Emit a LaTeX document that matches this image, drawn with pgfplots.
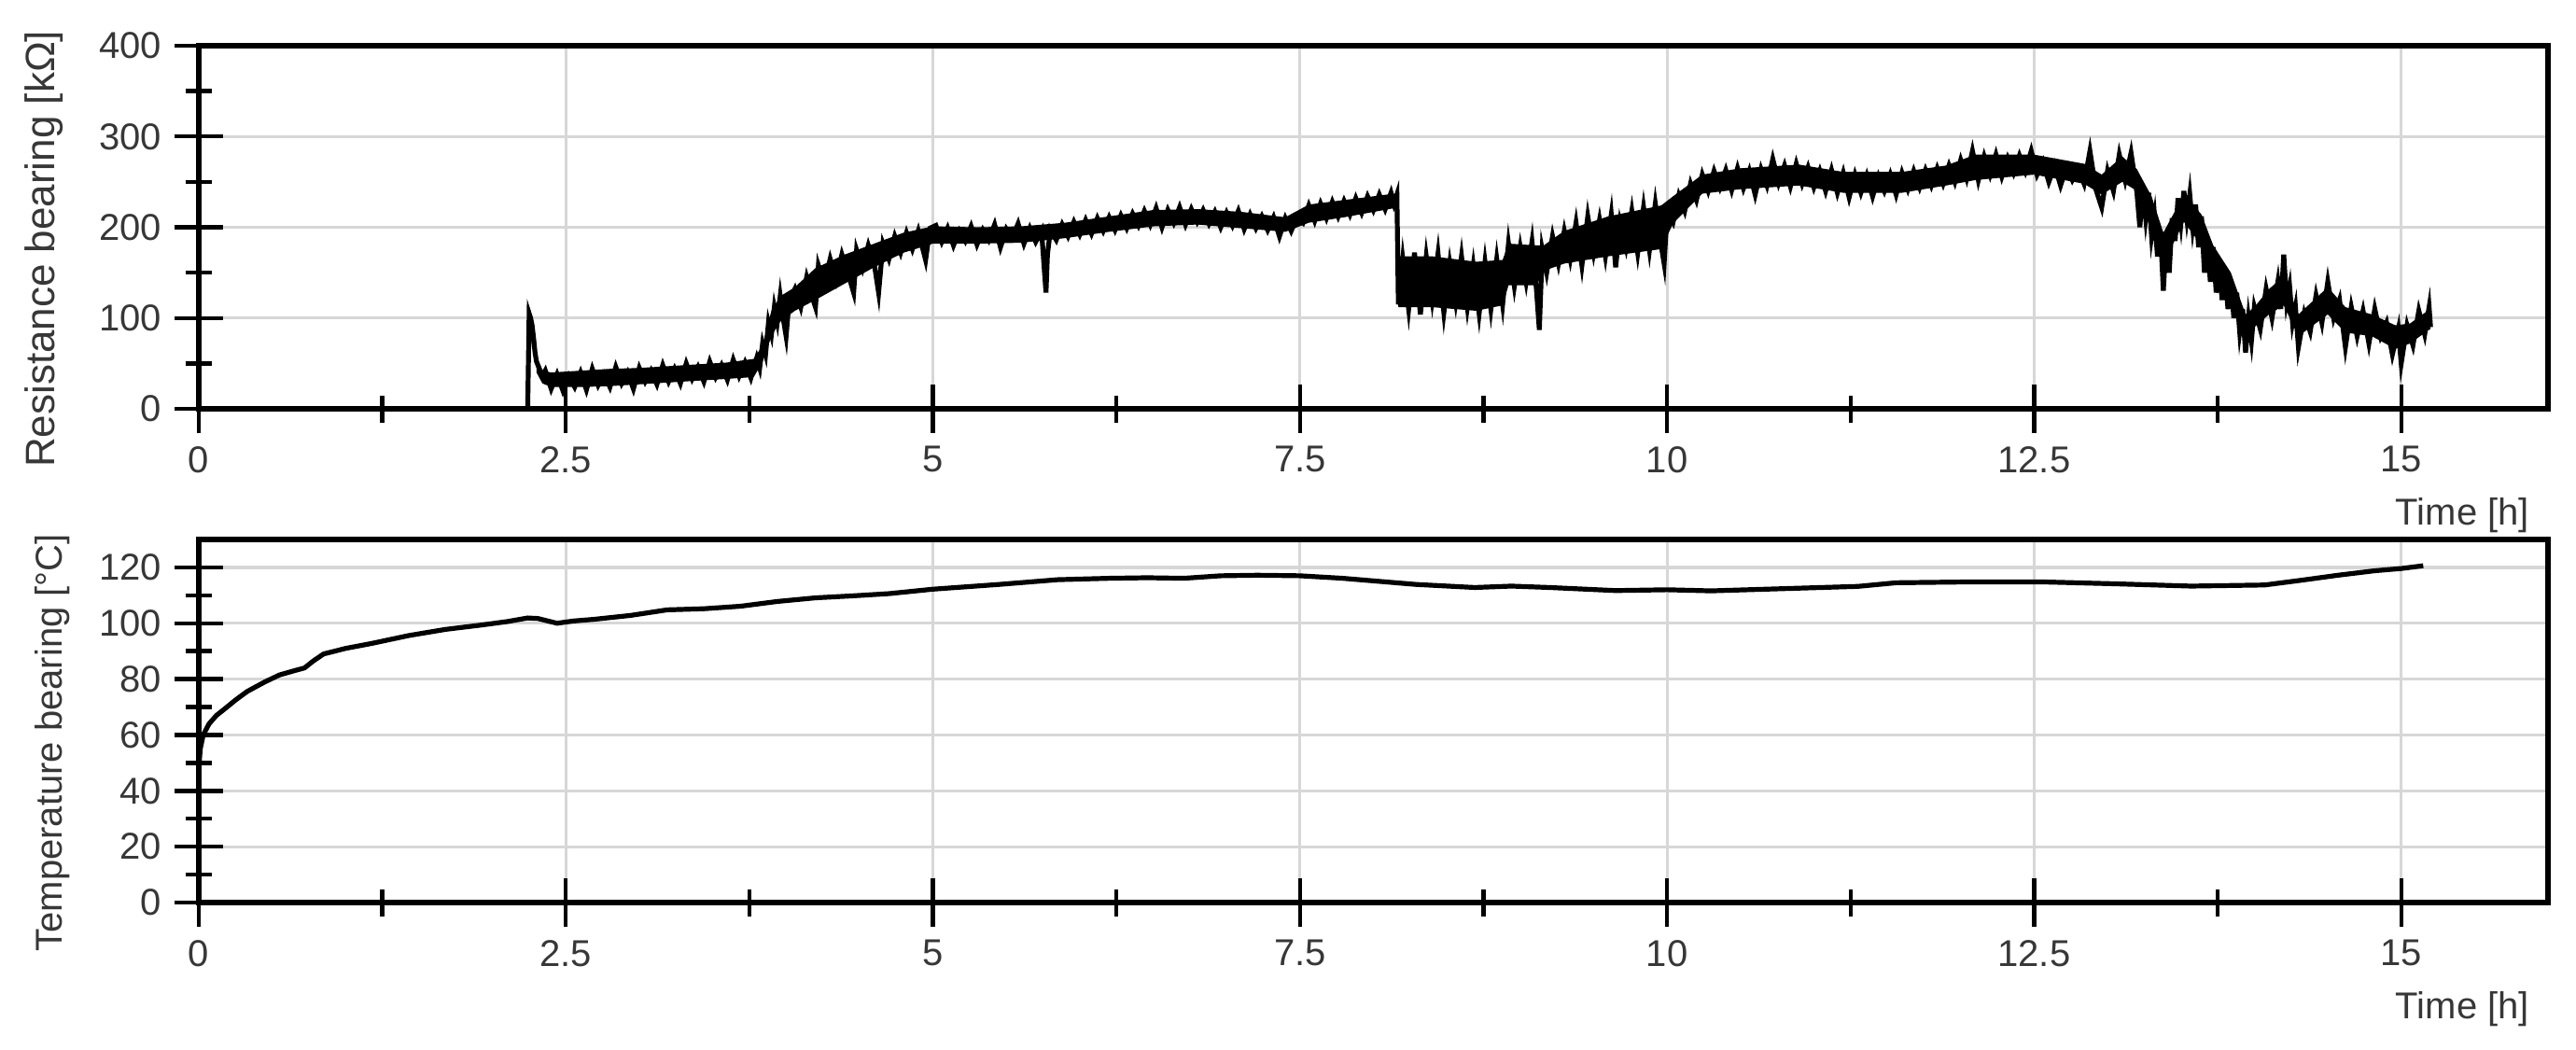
\documentclass[border=0pt]{standalone}
\usepackage{fontspec}
\setmainfont{Liberation Sans}
\usepackage{pgfplots}
\pgfplotsset{compat=1.18}

\definecolor{txt}{RGB}{55,55,55}
\definecolor{gridc}{RGB}{215,215,215}

\pgfplotsset{
  bearing/.style={
    scale only axis,
    width=629.25pt, height=97.25pt,
    xmin=0, xmax=16,
    xtick={0,2.5,5,7.5,10,12.5,15},
    minor x tick num=1,
    minor y tick num=1,
    xtick pos=left, ytick pos=left,
    tick align=center,
    major tick length=13pt,
    minor tick length=7.25pt,
    every tick/.style={black, line width=1.1pt},
    grid=major,
    major grid style={gridc, line width=0.8pt},
    axis line style={black, line width=1.6pt},
    ticklabel style={font=\fontsize{10}{12}\selectfont, text=txt},
    /pgf/number format/assume math mode=true,
    label style={font=\fontsize{10}{12}\selectfont, text=txt},
    xlabel={Time [h]},
    xlabel style={at={(rel axis cs:1,0)}, anchor=east, xshift=-1.5pt, yshift=-28.5pt},
    clip=false,
  }
}

\begin{document}
\begin{tikzpicture}
\useasboundingbox (-53.25pt,-171.5pt) rectangle (636.75pt,109.5pt);

% resistance
\begin{axis}[bearing,
    at={(0pt,0pt)}, anchor=south west,
    ymin=0, ymax=400,
    ytick={0,100,200,300,400},
    ylabel={Resistance bearing [k\symbol{"03A9}]},
    ylabel style={at={(axis description cs:-0.066,0.44)}, anchor=center, rotate=0,
      font=\fontsize{11}{13}\selectfont},
  ]
  % body of the noisy band: upper envelope, then lower envelope backwards
  \addplot[draw=none, fill=black, forget plot] coordinates {
    (2.30,56) (2.34,42) (2.40,40) (2.60,42) (2.80,44) (3.00,45) (3.20,47) (3.40,49) (3.60,51) (3.78,55)
    (3.84,70) (3.90,108) (3.96,124) (4.06,134) (4.20,155) (4.40,170) (4.60,182) (4.80,194) (5.00,201) (5.30,200)
    (5.60,201) (5.90,205) (6.20,212) (6.50,219) (6.80,220) (7.10,217) (7.40,211) (7.56,225) (7.80,230) (8.14,237)
    (8.16,237) (8.17,168) (8.40,168) (8.70,162) (8.88,164) (8.92,182) (9.11,180) (9.16,180) (9.30,196) (9.60,212)
    (9.96,224) (10.04,234) (10.24,258) (10.50,265) (10.90,269) (11.20,261) (11.60,261) (11.90,268) (12.10,280) (12.50,280)
    (12.84,270) (12.96,258) (13.10,278) (13.20,264) (13.30,234) (13.38,194) (13.52,236) (13.64,214) (13.72,180) (13.84,150)
    (13.94,104) (14.00,112) (14.10,132) (14.20,146) (14.30,104) (14.50,134) (14.62,112) (14.80,104) (14.96,92) (15.06,94)
    (15.18,108) (15.20,104)
    (15.20,88) (15.18,86) (15.06,72) (14.96,66) (14.80,80) (14.62,84) (14.50,104) (14.30,80) (14.20,114) (14.10,104)
    (14.00,90) (13.94,80) (13.84,120) (13.72,145) (13.64,180) (13.52,206) (13.38,160) (13.30,196) (13.20,240) (13.10,250)
    (12.96,236) (12.84,248) (12.50,258) (12.10,252) (11.90,246) (11.60,238) (11.20,238) (10.90,246) (10.50,242) (10.24,237)
    (10.04,204) (9.96,176) (9.60,168) (9.30,160) (9.16,152) (9.11,136) (8.92,136) (8.88,114) (8.70,108) (8.40,112)
    (8.17,112) (8.16,222) (8.14,221) (7.80,211) (7.56,205) (7.40,195) (7.10,199) (6.80,203) (6.50,201) (6.20,195)
    (5.90,188) (5.60,183) (5.30,182) (5.00,182) (4.80,172) (4.60,156) (4.40,138) (4.20,120) (4.06,108) (3.96,96)
    (3.90,80) (3.84,52) (3.78,35) (3.60,33) (3.40,31) (3.20,29) (3.00,27) (2.80,25) (2.60,24) (2.40,24)
    (2.34,28) (2.30,40)
  } -- cycle;
  % measured trace
  \addplot[black, line width=1.3pt] coordinates {
    (0,0) (2.24,0) (2.25,105) (2.26,100) (2.27,92) (2.28,78) (2.29,62) (2.30,52) (2.32,44) (2.34,36)
    (2.36,42) (2.40,22) (2.44,38) (2.48,20) (2.52,36) (2.56,24) (2.60,40) (2.64,21) (2.68,44) (2.72,26)
    (2.76,38) (2.80,24) (2.84,46) (2.88,28) (2.92,40) (2.96,22) (3.00,45) (3.04,30) (3.08,42) (3.12,27)
    (3.16,48) (3.20,30) (3.24,44) (3.28,28) (3.32,50) (3.36,33) (3.40,46) (3.44,30) (3.48,52) (3.52,35)
    (3.56,48) (3.60,32) (3.64,54) (3.68,36) (3.72,51) (3.76,34) (3.80,56)
    (3.82,45) (3.84,72) (3.86,60) (3.88,95) (3.90,82) (3.92,112) (3.94,96) (3.96,124) (3.98,100) (4.00,80)
    (4.02,118) (4.06,132) (4.10,112) (4.14,145) (4.18,122) (4.20,112) (4.22,158) (4.26,138) (4.30,165) (4.34,142)
    (4.38,170) (4.42,150) (4.46,128) (4.48,175) (4.52,155) (4.56,180) (4.60,160) (4.63,128) (4.66,182) (4.70,165)
    (4.74,190) (4.78,172) (4.82,194) (4.86,176) (4.90,196) (4.95,164) (4.98,199)
    (5.02,202) (5.06,184) (5.10,199) (5.14,180) (5.18,196) (5.22,185) (5.26,201) (5.30,181) (5.34,197) (5.38,186)
    (5.42,203) (5.46,178) (5.50,198) (5.54,188) (5.58,204) (5.62,182) (5.66,199) (5.70,184) (5.74,196) (5.76,150)
    (5.77,128) (5.78,170) (5.80,197) (5.84,186) (5.88,203) (5.92,190) (5.96,206) (6.00,192) (6.04,208) (6.08,193)
    (6.12,210) (6.16,196) (6.20,211) (6.24,197) (6.28,213) (6.32,199) (6.36,215) (6.40,202) (6.44,218) (6.48,203)
    (6.52,221) (6.56,200) (6.60,219) (6.64,205) (6.68,222) (6.72,203) (6.76,220) (6.80,206) (6.84,219) (6.88,204)
    (6.92,217) (6.96,200) (7.00,216) (7.04,202) (7.08,218) (7.12,198) (7.16,214) (7.20,199) (7.24,212) (7.28,197)
    (7.32,211) (7.36,190) (7.40,210) (7.44,196) (7.48,211) (7.52,205) (7.56,224) (7.60,207) (7.64,226) (7.68,210)
    (7.72,228) (7.76,212) (7.80,229) (7.84,214) (7.88,232) (7.92,216) (7.96,234) (8.00,219) (8.04,236) (8.08,220)
    (8.12,238) (8.14,226) (8.16,236)
    (8.17,115) (8.20,165) (8.24,110) (8.28,172) (8.32,104) (8.36,168) (8.40,120) (8.44,171) (8.48,106) (8.52,160)
    (8.56,118) (8.60,168) (8.64,112) (8.68,158) (8.72,105) (8.76,162) (8.80,110) (8.84,165) (8.88,115)
    (8.92,182) (8.96,135) (9.00,178) (9.04,140) (9.08,184) (9.11,132) (9.13,87) (9.15,175)
    (9.18,150) (9.22,190) (9.26,160) (9.30,196) (9.34,165) (9.38,205) (9.42,158) (9.46,212) (9.50,172) (9.54,208)
    (9.58,168) (9.62,214) (9.65,156) (9.68,205) (9.72,178) (9.76,218) (9.80,172) (9.84,222) (9.88,175) (9.92,226)
    (9.96,180) (9.98,160) (10.00,215)
    (10.04,205) (10.08,235) (10.12,218) (10.16,248) (10.20,230) (10.24,258)
    (10.28,240) (10.32,262) (10.36,244) (10.40,263) (10.44,241) (10.48,265) (10.52,243) (10.56,262) (10.60,236) (10.64,264)
    (10.68,246) (10.72,275) (10.76,249) (10.80,268) (10.84,245) (10.88,270) (10.92,248) (10.96,266) (11.00,244) (11.04,262)
    (11.08,240) (11.12,263) (11.16,238) (11.20,260) (11.24,233) (11.28,258) (11.32,238) (11.36,257) (11.40,234) (11.44,256)
    (11.48,240) (11.52,258) (11.56,236) (11.60,260) (11.64,242) (11.68,262) (11.72,244) (11.76,263) (11.80,246) (11.84,265)
    (11.88,248) (11.92,268) (11.96,250) (12.00,274) (12.04,254) (12.08,284) (12.12,252) (12.16,278) (12.20,258) (12.24,280)
    (12.28,256) (12.32,276) (12.36,260) (12.40,279) (12.44,262) (12.48,284) (12.52,258) (12.56,272) (12.60,250) (12.64,268)
    (12.68,246) (12.72,266) (12.76,252) (12.80,264) (12.84,248) (12.88,284) (12.92,242) (12.96,222) (13.00,262) (13.04,240)
    (13.08,280) (13.12,252) (13.16,282) (13.20,238)
    (13.22,200) (13.24,244) (13.26,210) (13.28,238) (13.30,190) (13.32,212) (13.34,168) (13.36,196) (13.38,130) (13.40,188)
    (13.42,150) (13.44,210) (13.46,185) (13.48,232) (13.50,205) (13.52,240) (13.54,210) (13.56,236) (13.58,200) (13.60,225)
    (13.62,178) (13.64,212) (13.66,150) (13.68,185) (13.70,140) (13.72,178) (13.74,128) (13.76,160) (13.78,120) (13.80,150)
    (13.82,110) (13.84,142) (13.86,100) (13.88,128) (13.90,85) (13.92,110) (13.94,62) (13.96,100) (13.98,75) (14.00,112)
    (14.04,88) (14.08,132) (14.12,100) (14.16,140) (14.18,110) (14.20,170) (14.22,118) (14.24,135) (14.26,95) (14.28,112)
    (14.30,68) (14.34,105) (14.38,85) (14.42,125) (14.46,95) (14.50,140) (14.54,100) (14.58,120) (14.62,68) (14.66,112)
    (14.70,80) (14.74,108) (14.78,72) (14.82,110) (14.86,80) (14.90,95) (14.94,60) (14.98,88) (15.00,50) (15.04,92)
    (15.08,70) (15.12,108) (15.16,82) (15.19,112) (15.20,90)
  };
\end{axis}

% temperature
\begin{axis}[bearing,
    at={(0pt,-132.25pt)}, anchor=south west,
    ymin=0, ymax=130,
    ytick={0,20,40,60,80,100,120},
    ylabel={Temperature bearing [°C]},
    ylabel style={at={(axis description cs:-0.0624,0.44)}, anchor=center, rotate=0},
  ]
  \addplot[black, line width=1.3pt] coordinates {
    (0,48) (0.01,55) (0.03,60) (0.07,64) (0.12,67) (0.18,69.5) (0.25,72.5) (0.33,75.6) (0.45,79) (0.55,81.5)
    (0.65,83) (0.72,84) (0.78,86.5) (0.85,89) (1.0,91) (1.18,92.8) (1.43,95.6) (1.68,97.8) (1.93,99.4) (2.1,100.6)
    (2.24,101.9) (2.31,101.7) (2.44,100) (2.55,100.8) (2.69,101.4) (2.94,102.8) (3.19,104.8) (3.44,105.2) (3.69,106.1) (3.94,107.8)
    (4.2,109.1) (4.45,109.8) (4.7,110.6) (5.0,112.2) (5.45,113.9) (5.85,115.6) (6.2,116.1) (6.46,116.3) (6.71,116.1) (6.96,117)
    (7.21,117.2) (7.5,117) (7.79,116.1) (8.04,115) (8.29,113.9) (8.69,112.8) (8.94,113.3) (9.2,112.8) (9.65,111.7) (10.0,112)
    (10.3,111.6) (10.8,112.4) (11.3,113.2) (11.56,114.5) (12.06,114.8) (12.56,114.8) (13.07,114.1) (13.57,113.3) (14.07,113.7) (14.32,115.4)
    (14.57,117.2) (14.82,118.8) (15.0,119.6) (15.15,120.6)
  };
\end{axis}
\end{tikzpicture}
\end{document}
